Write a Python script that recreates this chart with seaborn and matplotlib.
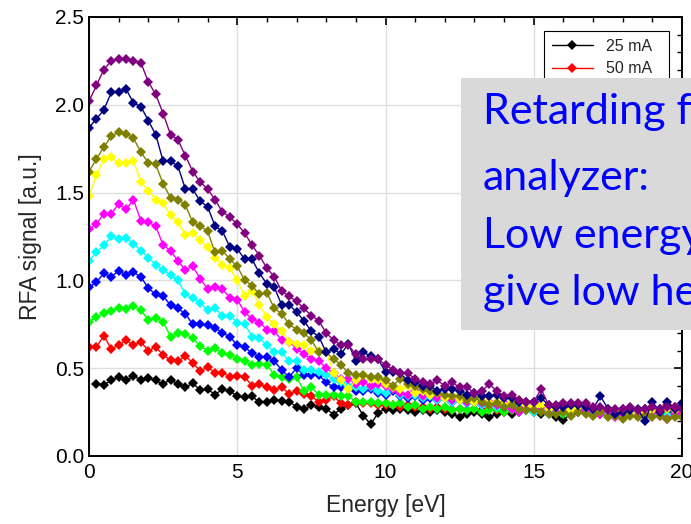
import numpy as np
import pandas as pd
import matplotlib.pyplot as plt
import seaborn as sns
from matplotlib.patches import Rectangle
from matplotlib.ticker import MultipleLocator

# energy grid of the RFA scan [eV]
energy = np.arange(0, 20.01, 0.25)

currents = ["25 mA", "50 mA", "75 mA", "100 mA", "125 mA",
            "150 mA", "175 mA", "200 mA", "225 mA", "250 mA"]
colors = ["#000000", "#ff0000", "#00ff00", "#0000ff", "#00ffff",
          "#ff00ff", "#ffff00", "#808000", "#000080", "#800080"]

sig_25 = [np.nan, 0.41, 0.405, 0.43, 0.45, 0.43, 0.455, 0.435, 0.445, 0.43,
          0.41, 0.435, 0.41, 0.39, 0.415, 0.375, 0.38, 0.35, 0.38, 0.37,
          0.34, 0.335, 0.34, 0.305, 0.305, 0.32, 0.315, 0.31, 0.28, 0.265,
          0.29, 0.28, 0.27, 0.235, 0.27, 0.29, 0.30, 0.23, 0.18, 0.245,
          0.27, 0.26, 0.27, 0.26, 0.25, 0.26, 0.25, 0.26, 0.25, 0.24,
          0.22, 0.24, 0.25, 0.24, 0.22, 0.24, 0.25, 0.24, 0.25, 0.26,
          0.25, 0.24, 0.25, 0.22, 0.205, 0.24, 0.25, 0.26, 0.25, 0.24,
          0.25, 0.26, 0.25, 0.24, 0.25, 0.26, 0.25, 0.24, 0.25, 0.26, 0.25]
sig_50 = [0.62, 0.62, 0.685, 0.61, 0.63, 0.66, 0.63, 0.65, 0.60, 0.62,
          0.575, 0.545, 0.54, 0.57, 0.53, 0.485, 0.505, 0.475, 0.475, 0.45,
          0.455, 0.45, 0.40, 0.41, 0.395, 0.375, 0.39, 0.355, 0.37, 0.355,
          0.34, 0.31, 0.32, 0.34, 0.30, 0.29, 0.31, 0.30, 0.30, 0.29,
          0.29, 0.29, 0.28, 0.29, 0.28, 0.28, 0.27, 0.28, 0.27, 0.26,
          0.27, 0.26, 0.27, 0.26, 0.27, 0.26, 0.25, 0.26, 0.27, 0.26,
          0.25, 0.26, 0.27, 0.26, 0.25, 0.26, 0.27, 0.26, 0.25, 0.26,
          0.27, 0.26, 0.25, 0.26, 0.25, 0.27, 0.28, 0.27, 0.29, 0.28, 0.27]
sig_75 = [0.765, 0.79, 0.815, 0.825, 0.845, 0.835, 0.855, 0.83, 0.775, 0.785,
          0.765, 0.68, 0.70, 0.695, 0.67, 0.625, 0.60, 0.615, 0.585, 0.575,
          0.55, 0.54, 0.52, 0.525, 0.52, 0.46, 0.45, 0.44, 0.45, 0.37,
          0.39, 0.35, 0.35, 0.35, 0.34, 0.34, 0.31, 0.31, 0.31, 0.30,
          0.30, 0.29, 0.30, 0.28, 0.29, 0.27, 0.28, 0.27, 0.28, 0.26,
          0.27, 0.26, 0.27, 0.25, 0.26, 0.27, 0.25, 0.26, 0.25, 0.26,
          0.25, 0.26, 0.25, 0.26, 0.24, 0.25, 0.26, 0.25, 0.24, 0.26,
          0.25, 0.24, 0.25, 0.26, 0.24, 0.25, 0.26, 0.24, 0.25, 0.24, 0.25]
sig_100 = [0.96, 0.99, 1.04, 1.02, 1.055, 1.03, 1.045, 1.02, 0.955, 0.92,
           0.91, 0.86, 0.84, 0.81, 0.75, 0.75, 0.745, 0.73, 0.70, 0.68,
           0.63, 0.62, 0.585, 0.565, 0.565, 0.54, 0.49, 0.45, 0.50, 0.46,
           0.46, 0.46, 0.42, 0.39, 0.39, 0.39, 0.37, 0.37, 0.38, 0.36,
           0.35, 0.37, 0.34, 0.33, 0.34, 0.32, 0.33, 0.32, 0.33, 0.31,
           0.32, 0.30, 0.31, 0.29, 0.30, 0.29, 0.28, 0.30, 0.28, 0.29,
           0.27, 0.28, 0.27, 0.28, 0.26, 0.27, 0.28, 0.27, 0.26, 0.25,
           0.27, 0.26, 0.27, 0.25, 0.26, 0.27, 0.25, 0.27, 0.26, 0.25, 0.26]
sig_125 = [1.11, 1.16, 1.20, 1.25, 1.235, 1.24, 1.21, 1.17, 1.13, 1.09,
           1.06, 1.03, 1.00, 0.92, 0.90, 0.87, 0.83, 0.84, 0.80, 0.80,
           0.76, 0.75, 0.68, 0.67, 0.63, 0.59, 0.59, 0.54, 0.54, 0.49,
           0.49, 0.48, 0.46, 0.44, 0.42, 0.40, 0.39, 0.38, 0.39, 0.37,
           0.36, 0.38, 0.35, 0.34, 0.35, 0.33, 0.34, 0.32, 0.33, 0.31,
           0.32, 0.30, 0.31, 0.29, 0.30, 0.28, 0.29, 0.27, 0.28, 0.26,
           0.25, 0.27, 0.24, 0.26, 0.25, 0.27, 0.26, 0.27, 0.25, 0.26,
           0.24, 0.25, 0.26, 0.24, 0.25, 0.23, 0.24, 0.25, 0.23, 0.24, 0.24]
sig_150 = [1.29, 1.32, 1.38, 1.38, 1.435, 1.405, 1.46, 1.34, 1.33, 1.31,
           1.20, 1.17, 1.11, 1.06, 1.08, 1.01, 0.95, 0.96, 0.95, 0.90,
           0.89, 0.82, 0.78, 0.76, 0.72, 0.71, 0.66, 0.65, 0.61, 0.58,
           0.55, 0.54, 0.50, 0.47, 0.44, 0.44, 0.41, 0.42, 0.40, 0.41,
           0.40, 0.38, 0.36, 0.35, 0.37, 0.34, 0.36, 0.33, 0.34, 0.32,
           0.33, 0.31, 0.32, 0.30, 0.31, 0.29, 0.30, 0.27, 0.25, 0.28,
           0.27, 0.28, 0.26, 0.27, 0.28, 0.26, 0.27, 0.25, 0.26, 0.24,
           0.26, 0.22, 0.24, 0.25, 0.23, 0.24, 0.25, 0.23, 0.21, 0.24, 0.25]
sig_175 = [1.48, 1.60, 1.69, 1.70, 1.67, 1.67, 1.68, 1.56, 1.51, 1.46,
           1.44, 1.37, 1.33, 1.26, 1.27, 1.23, 1.19, 1.13, 1.09, 1.07,
           1.00, 0.91, 0.94, 0.86, 0.79, 0.75, 0.71, 0.65, 0.64, 0.63,
           0.60, 0.60, 0.59, 0.47, 0.43, 0.38, 0.43, 0.46, 0.44, 0.43,
           0.41, 0.39, 0.38, 0.40, 0.36, 0.37, 0.35, 0.36, 0.33, 0.34,
           0.32, 0.33, 0.31, 0.32, 0.30, 0.31, 0.29, 0.31, 0.32, 0.29,
           0.28, 0.29, 0.27, 0.28, 0.27, 0.26, 0.28, 0.29, 0.27, 0.26,
           0.27, 0.25, 0.26, 0.24, 0.26, 0.25, 0.26, 0.25, 0.27, 0.26, 0.27]
sig_200 = [1.62, 1.69, 1.76, 1.82, 1.845, 1.835, 1.81, 1.73, 1.67, 1.66,
           1.55, 1.47, 1.46, 1.43, 1.33, 1.31, 1.28, 1.16, 1.17, 1.12,
           1.08, 1.00, 0.97, 0.92, 0.93, 0.84, 0.81, 0.75, 0.72, 0.70,
           0.66, 0.59, 0.59, 0.55, 0.52, 0.47, 0.46, 0.46, 0.45, 0.45,
           0.43, 0.40, 0.44, 0.41, 0.40, 0.38, 0.37, 0.36, 0.35, 0.34,
           0.34, 0.32, 0.33, 0.31, 0.29, 0.30, 0.28, 0.29, 0.27, 0.26,
           0.26, 0.25, 0.24, 0.24, 0.25, 0.23, 0.25, 0.24, 0.23, 0.25,
           0.22, 0.23, 0.21, 0.23, 0.22, 0.23, 0.22, 0.23, 0.21, 0.22, 0.22]
sig_225 = [1.87, 1.92, 1.97, 2.07, 2.07, 2.09, 2.01, 1.99, 1.91, 1.83,
           1.68, 1.68, 1.65, 1.52, 1.52, 1.45, 1.42, 1.31, 1.28, 1.19,
           1.18, 1.12, 1.12, 1.04, 0.98, 0.96, 0.86, 0.86, 0.82, 0.77,
           0.71, 0.68, 0.59, 0.61, 0.58, 0.64, 0.54, 0.59, 0.57, 0.55,
           0.48, 0.48, 0.47, 0.43, 0.42, 0.40, 0.40, 0.37, 0.38, 0.38,
           0.37, 0.35, 0.36, 0.34, 0.34, 0.35, 0.33, 0.33, 0.31, 0.31,
           0.31, 0.33, 0.29, 0.28, 0.28, 0.29, 0.29, 0.28, 0.27, 0.34,
           0.27, 0.24, 0.25, 0.26, 0.27, 0.20, 0.31, 0.25, 0.31, 0.27, 0.30]
sig_250 = [2.02, 2.11, 2.20, 2.25, 2.26, 2.26, 2.25, 2.24, 2.13, 2.06,
           1.95, 1.83, 1.80, 1.71, 1.62, 1.56, 1.52, 1.46, 1.39, 1.36,
           1.32, 1.27, 1.20, 1.14, 1.07, 1.02, 0.94, 0.91, 0.88, 0.84,
           0.80, 0.77, 0.70, 0.66, 0.63, 0.63, 0.58, 0.55, 0.55, 0.55,
           0.52, 0.49, 0.47, 0.47, 0.44, 0.42, 0.41, 0.43, 0.40, 0.42,
           0.39, 0.39, 0.36, 0.37, 0.41, 0.37, 0.34, 0.35, 0.32, 0.31,
           0.31, 0.38, 0.29, 0.29, 0.30, 0.30, 0.30, 0.30, 0.28, 0.28,
           0.26, 0.27, 0.27, 0.28, 0.26, 0.27, 0.28, 0.26, 0.28, 0.28, 0.27]

signals = [sig_25, sig_50, sig_75, sig_100, sig_125,
           sig_150, sig_175, sig_200, sig_225, sig_250]

box_lines = ["Retarding field", "analyzer:", "Low energy electrons", "give low heat load"]

frames = []
for cur, sig in zip(currents, signals):
    frames.append(pd.DataFrame({"energy": energy, "signal": sig, "current": cur}))
df = pd.concat(frames, ignore_index=True).dropna()

sns.set_style("white")
plt.rcParams["font.family"] = ["Liberation Sans", "DejaVu Sans"]

fig = plt.figure(figsize=(6.91, 5.24), dpi=100)
ax = fig.add_axes([0.1288, 0.1298, 0.8582, 0.8378])

sns.lineplot(data=df, x="energy", y="signal", hue="current", hue_order=currents,
             palette=dict(zip(currents, colors)), marker="D", markersize=5.5,
             markeredgewidth=0, linewidth=1, estimator=None, sort=False, ax=ax)

ax.set_xlim(0, 20)
ax.set_ylim(0, 2.5)
ax.xaxis.set_major_locator(MultipleLocator(5))
ax.xaxis.set_minor_locator(MultipleLocator(1))
ax.yaxis.set_major_locator(MultipleLocator(0.5))
ax.yaxis.set_minor_locator(MultipleLocator(0.1))
ax.set_yticks([0, 0.5, 1.0, 1.5, 2.0, 2.5])
ax.set_yticklabels(["0.0", "0.5", "1.0", "1.5", "2.0", "2.5"])
ax.grid(True, which="major", color="#dedede", linewidth=1)
ax.set_axisbelow(True)
ax.tick_params(which="both", direction="in", top=True, right=True,
               colors="black", labelsize=15)
ax.tick_params(axis="x", pad=5)
ax.tick_params(which="major", length=6, width=1.2)
ax.tick_params(which="minor", length=3.5, width=1)
for s in ax.spines.values():
    s.set_color("black")
    s.set_linewidth(1.4)
ax.set_xlabel("Energy [eV]", fontsize=16.5, labelpad=9)
ax.set_ylabel("RFA signal [a.u.]", fontsize=16.5, labelpad=9)

handles, labels = ax.get_legend_handles_labels()
leg = ax.legend(handles, labels, loc="upper right", bbox_to_anchor=(0.978, 0.968),
                fontsize=11.5, frameon=True, fancybox=False, framealpha=1,
                edgecolor="black", handlelength=2.6, labelspacing=0.45,
                borderpad=0.5, borderaxespad=0)
leg.get_frame().set_linewidth(0.8)

# grey callout box over the right part of the plot
fig.add_artist(Rectangle((461 / 691, 1 - 330 / 524), 0.4, 252 / 524,
                         transform=fig.transFigure, facecolor="#d9d9d9",
                         edgecolor="none", zorder=10))
for line, base in zip(box_lines, [124, 190, 248, 305]):
    fig.text(483 / 691, 1 - base / 524, line, fontsize=31, color="#0000ff",
             family=["Lato", "DejaVu Sans"], va="baseline", ha="left", zorder=11)

fig.savefig("out.png", dpi=100)
